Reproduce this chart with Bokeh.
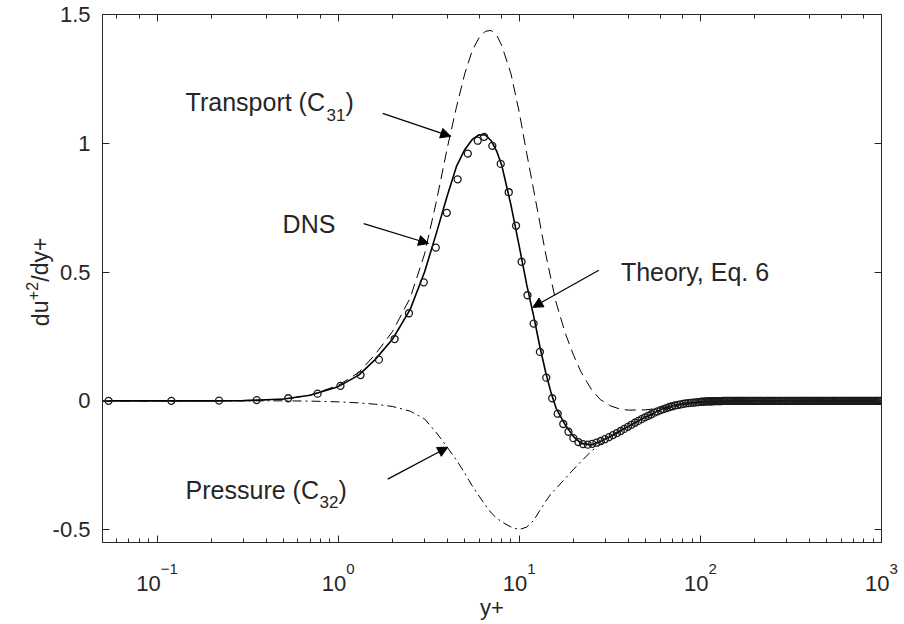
from bokeh.plotting import figure
from bokeh.models import (LogAxis, LinearAxis, LogTicker, FixedTicker, Label, Arrow,
                          NormalHead, Range1d, CustomJSTickFormatter)
from bokeh.core.properties import value
from bokeh.embed import file_html
from bokeh.resources import INLINE

# ---------------- data ----------------
yplus = [0.05, 0.1, 0.2, 0.3, 0.5, 0.7, 1.0, 1.3, 1.6, 2.0,
         2.5, 3.0, 3.5, 4.0, 4.5, 5.0, 5.5, 6.0, 6.5, 7.0, 7.5, 8.0,
         9.0, 10, 11, 12, 13, 14, 15, 16,
         18, 20, 22, 25, 28, 32, 36, 40,
         50, 60, 70, 80, 100, 150, 200, 300, 500, 1000]

theory = [0, 0, 0, 0.001, 0.007, 0.022, 0.055, 0.10, 0.16, 0.24,
          0.355, 0.50, 0.655, 0.795, 0.91, 0.975, 1.015, 1.033, 1.032, 1.01, 0.97, 0.915,
          0.76, 0.60, 0.45, 0.33, 0.21, 0.11, 0.03, -0.03,
          -0.095, -0.14, -0.165, -0.171, -0.158, -0.137, -0.117, -0.099,
          -0.062, -0.035, -0.019, -0.011, -0.004, -0.001, 0, 0, 0, 0]

transport = [0, 0, 0, 0.001, 0.006, 0.022, 0.06, 0.11, 0.18, 0.27,
             0.40, 0.57, 0.78, 0.98, 1.14, 1.27, 1.36, 1.41, 1.435, 1.438, 1.42, 1.38,
             1.27, 1.12, 0.96, 0.82, 0.69, 0.57, 0.47, 0.38,
             0.26, 0.175, 0.11, 0.045, 0.005, -0.02, -0.032, -0.036,
             -0.035, -0.028, -0.02, -0.014, -0.006, -0.001, 0, 0, 0, 0]

pressure = [0, 0, 0, 0, 0, -0.001, -0.004, -0.008, -0.013, -0.022,
            -0.04, -0.07, -0.125, -0.18, -0.23, -0.28, -0.33, -0.37, -0.405, -0.435, -0.455, -0.47,
            -0.49, -0.50, -0.49, -0.465, -0.425, -0.39, -0.36, -0.34,
            -0.30, -0.265, -0.235, -0.195, -0.17, -0.14, -0.12, -0.10,
            -0.065, -0.04, -0.025, -0.015, -0.006, -0.001, 0, 0, 0, 0]

# DNS points up to y+ = 100 (values read individually)
dns_x = [0.054, 0.12, 0.22, 0.355, 0.53, 0.77, 1.03, 1.33, 1.68, 2.05,
         2.46, 2.97, 3.46, 3.98, 4.57, 5.2, 5.9, 6.4, 7.1, 7.9,
         8.75, 9.6, 10.3, 11.1, 12.0, 13.0, 14.1, 15.2, 16.3, 17.5,
         18.7, 19.9, 21.2, 22.5, 23.9, 25.3, 26.7, 28.2, 29.7, 31.3,
         32.9, 34.6, 36.3, 38.0, 39.8, 41.6, 43.5, 45.4, 47.4, 49.4,
         51.5, 53.6, 55.8, 58.0, 60.3, 62.6, 65.0, 67.4, 69.9, 72.4,
         75.0, 77.6, 80.3, 83.0, 85.8, 88.6, 91.5, 94.4, 97.4, 100.4]

dns_y = [0, 0, 0.001, 0.003, 0.01, 0.028, 0.058, 0.10, 0.16, 0.24,
         0.34, 0.46, 0.595, 0.73, 0.86, 0.96, 1.01, 1.025, 0.99, 0.92,
         0.81, 0.68, 0.54, 0.41, 0.30, 0.19, 0.09, 0.01, -0.05, -0.09,
         -0.12, -0.145, -0.16, -0.168, -0.17, -0.167, -0.162, -0.156, -0.149, -0.141,
         -0.133, -0.125, -0.117, -0.109, -0.101, -0.093, -0.085, -0.078, -0.071, -0.064,
         -0.058, -0.052, -0.046, -0.041, -0.036, -0.032, -0.028, -0.024, -0.021, -0.018,
         -0.016, -0.014, -0.012, -0.010, -0.009, -0.008, -0.007, -0.006, -0.005, -0.004]

# dense DNS points in the outer region (they merge into a thick band at ~0)
dns_outer_x = [102, 104, 106, 108, 110, 112, 114, 116, 118, 120, 122, 124, 126, 128, 130,
               133, 136, 139, 142, 145, 148, 151, 154, 157, 160, 163, 166, 169, 172, 175,
               179, 183, 187, 191, 195, 199, 203, 207, 211, 215, 220, 225, 230, 235, 240,
               245, 250, 255, 260, 266, 272, 278, 284, 290, 296, 302, 308, 314, 320, 327,
               334, 341, 348, 355, 362, 369, 376, 383, 390, 398, 406, 414, 422, 430, 438,
               446, 454, 462, 470, 480, 490, 500, 510, 520, 530, 540, 550, 560, 570, 582,
               594, 606, 618, 630, 642, 654, 666, 678, 690, 704, 718, 732, 746, 760, 774,
               788, 802, 816, 830, 846, 862, 878, 894, 910, 926, 942, 958, 974, 990, 1000]
dns_outer_y = [-0.003, -0.003, -0.003, -0.002, -0.002, -0.002, -0.002, -0.002, -0.001, -0.001,
               -0.001, -0.001, -0.001, -0.001, -0.001] + [0.0] * 105

assert len(yplus) == len(theory) == len(transport) == len(pressure)
assert len(dns_x) == len(dns_y)
assert len(dns_outer_x) == len(dns_outer_y)

x_ticks = [0.1, 1, 10, 100, 1000]
x_tick_base = ["10", "10", "10", "10", "10"]
x_tick_exp = ["-1", "0", "1", "2", "3"]
y_ticks = [-0.5, 0, 0.5, 1, 1.5]
y_tick_labels = ["-0.5", "0", "0.5", "1", "1.5"]
x_label = "y+"
y_label_parts = ["du", "+2", "/dy+"]   # du^{+2}/dy+

# annotations: text anchor (left, baseline), arrow start and tip, in data units
ann_transport = dict(text="Transport (C", sub="31", x=0.1438, y=1.159,
                     start=(1.762, 1.116), tip=(4.184, 1.027))
ann_dns = dict(text="DNS", x=0.4937, y=0.688, start=(1.384, 0.688), tip=(3.16, 0.611))
ann_theory = dict(text="Theory, Eq. 6", x=36.4, y=0.4985, start=(27.5, 0.507), tip=(11.88, 0.363))
ann_pressure = dict(text="Pressure (C", sub="32", x=0.1438, y=-0.347,
                    start=(1.878, -0.304), tip=(4.03, -0.180))

# ---------------- figure ----------------
FONT = "Liberation Sans"
TXT = "#262626"
AX = "#262626"
X0, Y0 = 0.05, -0.55   # lower-left corner of the axes box

p = figure(width=904, height=624, x_axis_type="log",
           x_range=Range1d(X0, 1000), y_range=Range1d(Y0, 1.5),
           output_backend="svg", toolbar_location=None,
           min_border_left=102, min_border_right=23, min_border_top=14, min_border_bottom=82)
p.background_fill_color = "white"
p.border_fill_color = "white"
p.grid.visible = False
p.outline_line_color = AX
p.outline_line_width = 1

blank = CustomJSTickFormatter(code="return ''")

xa = p.xaxis[0]
xa.formatter = blank
xa.major_label_text_font_size = "0px"
xa.major_label_standoff = 17
xa.axis_label = x_label
xa.axis_label_text_font = FONT
xa.axis_label_text_font_size = "22px"
xa.axis_label_text_font_style = "normal"
xa.axis_label_text_color = TXT
xa.axis_label_standoff = 52
xa.major_tick_in = 7
xa.major_tick_out = 0
xa.minor_tick_in = 4
xa.minor_tick_out = 0
xa.axis_line_color = AX
xa.major_tick_line_color = AX
xa.minor_tick_line_color = AX

top = LogAxis(ticker=LogTicker(), formatter=blank, major_label_text_font_size="0px",
              major_label_standoff=0, major_tick_in=7, major_tick_out=0,
              minor_tick_in=4, minor_tick_out=0, axis_line_color=AX,
              major_tick_line_color=AX, minor_tick_line_color=AX)
p.add_layout(top, "above")

ya = p.yaxis[0]
ya.ticker = FixedTicker(ticks=y_ticks)
ya.major_label_overrides = {t: s for t, s in zip(y_ticks, y_tick_labels)}
ya.major_label_text_font = FONT
ya.major_label_text_font_size = "22px"
ya.major_label_text_color = TXT
ya.major_label_standoff = 12
ya.major_tick_in = 7
ya.major_tick_out = 0
ya.minor_tick_line_color = None
ya.axis_line_color = AX
ya.major_tick_line_color = AX

right = LinearAxis(ticker=FixedTicker(ticks=y_ticks), formatter=blank,
                   major_label_text_font_size="0px", major_label_standoff=0,
                   major_tick_in=7, major_tick_out=0, minor_tick_line_color=None,
                   axis_line_color=AX, major_tick_line_color=AX)
p.add_layout(right, "right")

# ---------------- curves ----------------
p.line(yplus, transport, line_color="black", line_width=1, line_dash="11 6")
p.line(yplus, pressure, line_color="black", line_width=1, line_dash="9 4 2 4")
p.line(yplus, theory, line_color="black", line_width=1.6)
p.scatter(dns_x, dns_y, marker="circle", size=7, fill_color=None,
          line_color="#1a1a1a", line_width=1.3)
p.scatter(dns_outer_x, dns_outer_y, marker="circle", size=7, fill_color=None,
          line_color="#1a1a1a", line_width=1.3)

# ---------------- texts outside the frame (overlay-level text glyphs) ----------------
def otext(xs, ys, texts, size, dx, dy, align="left", angle=0.0):
    p.text(x=xs, y=ys, text=texts, angle=angle, x_offset=dx, y_offset=dy,
           text_font=value(FONT), text_font_size=value(f"{size}px"), text_color=TXT,
           text_align=align, text_baseline="alphabetic", level="overlay")


# x tick labels: "10" with a raised exponent, the pair centred on its tick
BASE, SUP = 22, 15
w_base = 1.112 * BASE
for t, b, e in zip(x_ticks, x_tick_base, x_tick_exp):
    w_sup = (1.14 if e.startswith("-") else 0.556) * SUP
    shift = (w_base - w_sup) / 2
    otext([t], [Y0], [b], BASE, shift, 41, align="right")
    otext([t], [Y0], [e.replace("-", "\u2212")], SUP, shift, 26, align="left")

# y axis label du^{+2}/dy+ (rotated, reads upward)
for part, dx, dy, size in zip(y_label_parts, [-62, -70, -62], [0, -26, -44.5], [23, 16, 23]):
    otext([X0], [0.29], [part], size, dx, dy, angle=1.5708)


def lab(x, y, text, size, dx=0, dy=0, align="left", baseline="alphabetic"):
    p.add_layout(Label(x=x, y=y, text=text, x_offset=dx, y_offset=dy,
                       text_font=FONT, text_font_size=f"{size}px", text_color=TXT,
                       text_align=align, text_baseline=baseline))


# annotations
AS = 25
SS = 17
lab(ann_transport["x"], ann_transport["y"], ann_transport["text"], AS)
lab(ann_transport["x"], ann_transport["y"], ann_transport["sub"], SS, dx=141, dy=-13)
lab(ann_transport["x"], ann_transport["y"], ")", AS, dx=160)
lab(ann_pressure["x"], ann_pressure["y"], ann_pressure["text"], AS)
lab(ann_pressure["x"], ann_pressure["y"], ann_pressure["sub"], SS, dx=134, dy=-12)
lab(ann_pressure["x"], ann_pressure["y"], ")", AS, dx=153)
lab(ann_dns["x"], ann_dns["y"], ann_dns["text"], AS)
lab(ann_theory["x"], ann_theory["y"], ann_theory["text"], AS)

for a in (ann_transport, ann_dns, ann_theory, ann_pressure):
    p.add_layout(Arrow(end=NormalHead(size=10, fill_color="black", line_color="black",
                                      line_width=1),
                       x_start=a["start"][0], y_start=a["start"][1],
                       x_end=a["tip"][0], y_end=a["tip"][1],
                       line_color="black", line_width=1.2))

open("out.html", "w").write(file_html(p, INLINE))
